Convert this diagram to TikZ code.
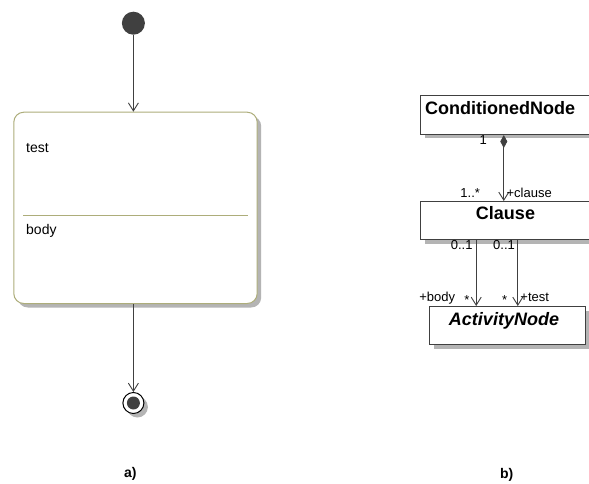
\documentclass[tikz,border=0pt]{standalone}
\usepackage{fontspec}
\setmainfont{Liberation Sans}
\usetikzlibrary{arrows.meta,shadows,calc}
\definecolor{ink}{HTML}{404040}
\definecolor{statebd}{HTML}{ADAD7A}
\definecolor{shade}{HTML}{B4B4B4}
\tikzset{
  x=1pt, y=-1pt,
  flow/.style={draw=ink, line width=0.9pt,
    -{Straight Barb[length=8pt,width=10pt,line width=0.9pt]}},
  shadowed/.style={drop shadow={shadow xshift=4pt, shadow yshift=-4pt,
    fill=shade, opacity=1}},
  classbox/.style={draw=ink, line width=1pt, fill=white, shadowed,
    anchor=north west, inner sep=0pt},
  classname/.style={font=\fontsize{18}{20}\selectfont\bfseries, anchor=base, inner sep=0pt},
  endlabel/.style={font=\fontsize{13}{15}\selectfont, anchor=base, inner sep=0pt, text=black},
  statetext/.style={font=\fontsize{14}{16}\selectfont, anchor=base west, inner sep=0pt},
  caption/.style={font=\fontsize{14}{16}\selectfont\bfseries, anchor=base, inner sep=0pt}
}
\begin{document}
\begin{tikzpicture}
\useasboundingbox (0,0) rectangle (589,484);
\clip (0,0) rectangle (589,484);
\fill[white] (0,0) rectangle (589,484);

% ---- a) conditional node as a state ----
\node[circle, fill=ink, minimum size=23pt, inner sep=0pt] (init) at (133.4,23.2) {};
\node[draw=statebd, line width=1pt, fill=white, rounded corners=10pt, shadowed,
      anchor=north west, minimum width=243.4pt, minimum height=191.3pt,
      inner sep=0pt] (st) at (13.3,111.7) {};
\draw[statebd, line width=1pt] ($(st.north west)+(9.7,103.3)$) coordinate (divl)
  -- ($(st.north east)+(-9.7,103.3)$) coordinate (divr);
\node[statetext] (ttest) at (26,152.3) {test};
\node[statetext] (tbody) at (26,234.3) {body};
\node[circle, draw=black, line width=1pt, fill=white, minimum size=21pt,
      inner sep=0pt, shadowed] (fin) at (133.4,403) {};
\node[circle, fill=ink, minimum size=13pt, inner sep=0pt] (findot) at (fin.center) {};
\draw[flow] (init.south) -- (init.south |- st.north);
\draw[flow] (fin.north |- st.south) -- (fin.north);
\node[caption] (capa) at (130.3,477.8) {a)};

% ---- b) class diagram ----
\node[classbox, minimum width=171pt, minimum height=39pt] (cn) at (420,95) {};
\node[classname, anchor=base west] (cnt) at (425,114.3) {ConditionedNode};
\node[classbox, minimum width=171pt, minimum height=38pt] (cl) at (420,201) {};
\node[classname] (clt) at (505.5,219) {Clause};
\node[classbox, minimum width=155.7pt, minimum height=38.3pt] (an) at (429.3,306) {};
\node[classname, font=\fontsize{18}{20}\selectfont\bfseries\itshape] (ant) at (504,325) {ActivityNode};

% composition ConditionedNode -> Clause
\draw[draw=ink, line width=0.9pt,
      {Diamond[length=13pt,width=7pt,fill=ink]}-{Straight Barb[length=8pt,width=10pt,line width=0.9pt]}]
  ([xshift=-2.2pt]cn.south) -- ([xshift=-2.2pt]cl.north);
\node[endlabel] (m1) at (483.3,144.3) {1};
\node[endlabel] (m1n) at (470.2,197.3) {1..*};
\node[endlabel] (rclause) at (529.2,197.3) {+clause};

% Clause -> ActivityNode (body, test)
\draw[flow] ([xshift=-29.8pt]cl.south) -- ([xshift=-29.8pt]cl.south |- an.north);
\draw[flow] ([xshift=11.8pt]cl.south) -- ([xshift=11.8pt]cl.south |- an.north);
\node[endlabel] (mb) at (461.7,249) {0..1};
\node[endlabel] (mt) at (504,249) {0..1};
\node[endlabel] (rbody) at (437.2,301.7) {+body};
\node[endlabel] (sb) at (467,304.5) {*};
\node[endlabel] (st2) at (504.7,304.5) {*};
\node[endlabel] (rtest) at (534.7,301.7) {+test};

\node[caption] (capb) at (506.7,478.5) {b)};
\end{tikzpicture}
\end{document}
